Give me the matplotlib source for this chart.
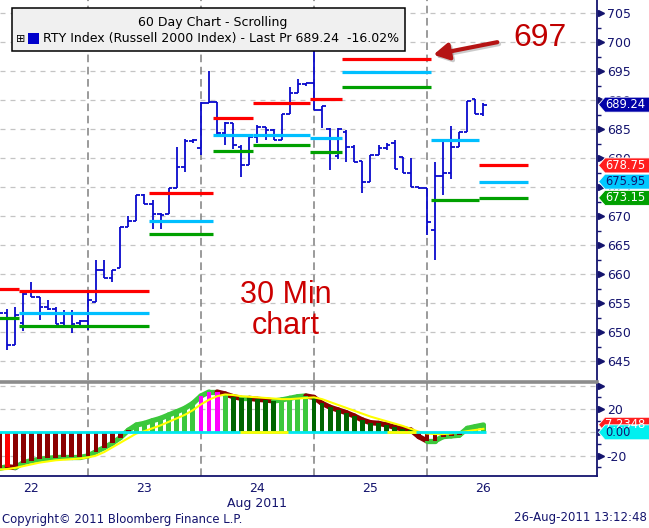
import numpy as np
import matplotlib.pyplot as plt
import matplotlib.transforms as mtransforms
from matplotlib.patches import Rectangle, Polygon

plt.rcParams['font.family'] = ['DejaVu Sans']

# 30 min bars, 14 bars per session, bar 0 = first bar of 22 Aug
bar_idx = list(range(3, 64))
opens = [653.5, 653.2, 647.8, 651.5, 656.9, 656.1, 654.4, 654.0, 651.5, 653.3, 651.6,
         651.9, 655.1, 660.7, 659.3, 661.0, 668.2, 669.2, 673.6, 672.1, 670.4, 670.4, 674.8,
         678.4, 683.0, 681.7, 689.6, 689.7, 684.3, 686.0, 682.0, 678.8, 683.7, 685.4, 684.9,
         683.1, 687.7, 691.2, 692.8, 692.9, 688.3, 685.0, 680.3, 684.5, 682.0, 679.6, 675.9,
         680.5, 681.8, 682.6, 680.2, 677.4, 675.1, 674.8, 667.6, 676.9, 677.4, 681.9, 684.5,
         690.2, 687.7]
highs = [654.5, 654.0, 654.4, 657.3, 658.7, 656.1, 655.6, 654.4, 653.8, 653.8, 652.0,
         656.7, 662.5, 662.5, 660.7, 668.2, 670.0, 673.6, 673.9, 672.7, 670.5, 674.8, 681.9,
         683.3, 683.3, 689.7, 695.1, 689.7, 686.3, 686.0, 682.3, 683.7, 685.7, 685.4, 685.0,
         687.7, 692.2, 693.6, 693.0, 702.0, 689.0, 685.2, 685.2, 684.9, 682.3, 679.6, 680.5,
         682.3, 682.6, 683.1, 680.2, 680.0, 675.1, 674.8, 679.4, 683.0, 685.5, 684.5, 689.9,
         690.2, 689.6]
lows = [652.5, 646.9, 647.8, 650.1, 656.1, 652.1, 653.8, 651.4, 651.2, 649.8, 651.2,
        650.4, 655.1, 659.3, 658.7, 661.0, 668.2, 669.2, 672.1, 667.7, 667.7, 670.4, 674.8,
        677.7, 682.6, 680.5, 689.6, 684.0, 682.3, 681.5, 676.8, 678.8, 682.6, 683.1, 683.1,
        683.1, 687.7, 691.2, 692.5, 688.3, 685.2, 678.0, 679.8, 679.4, 679.4, 674.0, 675.9,
        680.5, 681.4, 678.2, 677.4, 675.1, 674.6, 666.7, 662.4, 673.6, 676.4, 681.9, 684.5,
        687.7, 687.3]
closes = [653.2, 647.8, 653.0, 656.6, 656.1, 654.4, 654.0, 651.4, 653.3, 651.4, 651.9,
          655.5, 660.7, 659.3, 660.7, 668.2, 669.2, 673.6, 672.1, 670.4, 670.2, 674.8, 678.4,
          683.0, 683.1, 689.6, 689.7, 684.3, 686.0, 682.3, 678.8, 683.7, 685.4, 684.9, 683.1,
          687.7, 691.2, 692.8, 693.0, 688.3, 689.0, 681.1, 685.0, 682.0, 679.4, 675.9, 680.5,
          681.8, 682.3, 678.2, 677.4, 675.1, 674.8, 669.0, 676.9, 677.4, 681.9, 684.5, 689.9,
          687.7, 689.24]

# pivot levels: segment start/end (bar units), resistance, pivot, support
piv_start = [2.5, 5.5, 21.5, 29.5, 34.5, 41.5, 45.5, 56.5, 62.5]
piv_end = [5.5, 21.5, 29.5, 34.5, 41.5, 45.5, 56.5, 62.5, 68.5]
piv_r = [657.4, 657.1, 674.0, 686.9, 689.6, 690.3, 697.2, np.nan, 678.75]
piv_p = [np.nan, 653.2, 669.2, 684.0, 684.0, 683.4, 694.8, 683.1, 675.95]
piv_s = [652.5, 651.1, 667.0, 681.3, 682.3, 681.1, 692.3, 672.7, 673.15]

# lower study: histogram, signal line, bar colour codes
hist = [-31, -29.5, -30.3, -26, -24.3, -23.2, -22.3, -21.7, -21.5, -21.5, -21.5, -20.3,
        -16.6, -13.2, -9.4, -4.6, 1.8, 6.3, 7.7, 10, 12, 14.9, 17.7, 20.6, 24.9, 31.2, 34.6,
        34.6, 32.9, 30.6, 29.2, 29.2, 28.3, 27.8, 26.9, 27.8, 29.2, 30.6, 31.2, 30.0, 24.9,
        21.5, 19.2, 16.9, 14.0, 10.6, 8.3, 7.7, 6.3, 4.3, 2.9, 2.0, -3.7, -7.4, -7.4, -3.7,
        -3.1, -2.5, 3.4, 4.9, 6.3]
signal = [-32, -31.5, -30.5, -29, -27.5, -26, -25, -24, -23.5, -23, -22.5, -21.5, -20, -17,
          -13, -9, -5, -1, 1, 3.5, 6, 9, 12, 15, 19, 24, 28, 31, 32.5, 32, 31, 30.5, 30, 29.5,
          29, 28.5, 28.5, 29, 29.5, 30, 28.5, 26, 23.5, 21, 18.5, 16, 13.5, 11.5, 9.5, 7.5,
          5.5, 3, 0.5, -1, -1.5, -1.5, -1, 0, 1, 2, 3]
hist_code = list('MR' + 'M' * 15 + 'L' * 8 + 'P' * 3 + 'L' + 'D' * 6 + 'L' * 4 + 'D' * 13
                 + 'M' * 6 + 'L' * 3)
zero_yellow = [(32.8, 38.8), (51.0, 54.7)]

day_ticks = [7, 21, 35, 49, 63]
day_labels = ['22', '23', '24\nAug 2011', '25', '26']
day_bounds = [14, 28, 42, 56]

NAVY = '#14146e'
BLUE = '#0a0acd'
code_col = {'M': '#8b0000', 'R': '#ff0000', 'L': '#3cc83c', 'D': '#006400', 'P': '#ff00ff'}

W, H = 649, 528
fig = plt.figure(figsize=(W / 100, H / 100), dpi=100)
ax = fig.add_axes([0, 1 - 380 / H, 597 / W, 380 / H])
ax2 = fig.add_axes([0, 1 - 476 / H, 597 / W, 94 / H], sharex=ax)

ax.set_xlim(3.1, 77.07)
ax.set_ylim(641.72, 707.3)
ax2.set_ylim(-37.5, 43.2)

for a in (ax, ax2):
    for s in ('left', 'top', 'bottom'):
        a.spines[s].set_visible(False)
    a.spines['right'].set_color(NAVY)
    a.spines['right'].set_linewidth(1.3)
    a.yaxis.tick_right()
    a.tick_params(axis='y', which='major', length=0, pad=7, labelsize=9, labelcolor=NAVY)
    a.tick_params(axis='y', which='minor', length=3, width=1, color=NAVY, direction='out')
    for d in day_bounds:
        a.axvline(d, color='#808080', lw=1.1, ls=(0, (5, 3)), zorder=1)
ax2.spines['bottom'].set_visible(True)
ax2.spines['bottom'].set_color(NAVY)
ax2.spines['bottom'].set_linewidth(1.3)
ax2.spines['top'].set_visible(True)
ax2.spines['top'].set_color('#8c8c8c')
ax2.spines['top'].set_linewidth(2.6)

# main panel ticks / grid
main_ticks = np.arange(645, 706, 5)
ax.set_yticks(main_ticks)
ax.set_yticks(main_ticks[:-1] + 2.5, minor=True)
ax.tick_params(axis='x', length=0, labelbottom=False)
for t in main_ticks:
    ax.axhline(t, color='#c4c4c4', lw=0.9, ls=(0, (4, 4)), zorder=0)

low_ticks = [-20, 0, 20, 40]
ax2.set_yticks(low_ticks)
ax2.set_yticklabels(['-20', '', '20', ''])
ax2.set_yticks([-30, -10, 10, 30], minor=True)
for t in low_ticks:
    ax2.axhline(t, color='#c4c4c4', lw=0.9, ls=(0, (4, 4)), zorder=0)
ax2.set_xticks(day_ticks)
ax2.set_xticklabels(day_labels)
ax2.tick_params(axis='x', length=0, pad=4, labelsize=9, labelcolor=NAVY)

# arrow markers on the major ticks
off = mtransforms.ScaledTranslation(3.5 / 100, 0, fig.dpi_scale_trans)
for a, tks in ((ax, main_ticks), (ax2, low_ticks)):
    tr = mtransforms.blended_transform_factory(a.transAxes, a.transData) + off
    a.plot([1.0] * len(tks), tks, ls='none', marker='>', ms=5, color=NAVY,
           transform=tr, clip_on=False, zorder=6)

# OHLC bars
x = np.array(bar_idx)
ax.vlines(x, lows, highs, color=BLUE, lw=1.3, zorder=3)
ax.hlines(opens, x - 0.45, x, color=BLUE, lw=1.3, zorder=3)
ax.hlines(closes, x, x + 0.45, color=BLUE, lw=1.3, zorder=3)

# pivot lines
ax.hlines(piv_p, piv_start, piv_end, color='#00bfff', lw=2.3, zorder=4)
ax.hlines(piv_s, piv_start, piv_end, color='#00a000', lw=2.3, zorder=4)
ax.hlines(piv_r, piv_start, piv_end, color='#ff0000', lw=2.3, zorder=4)

# lower study
h = np.array(hist)
for i in range(len(x) - 1):
    c = '#3cc83c' if h[i + 1] >= h[i] else '#8b0000'
    ax2.plot(x[i:i + 2], h[i:i + 2], color=c, lw=3.8, solid_capstyle='round', zorder=2)
ax2.bar(x, h, width=0.6, color=[code_col[c] for c in hist_code], zorder=3)
ax2.plot(x, signal, color='#ffff00', lw=1.5, zorder=4)
ax2.hlines(0, x[0] - 0.5, x[-1] + 0.3, color='#00e8f0', lw=2, zorder=5)
for a0, a1 in zero_yellow:
    ax2.hlines(0, a0, a1, color='#ffff00', lw=2, zorder=5)

# legend box
ax.add_patch(Rectangle((0.0206, 0.866), 0.657, 0.112, transform=ax.transAxes,
                       fc='#f0f0f0', ec='black', lw=1.1, zorder=7))
ax.text(0.357, 0.9395, '60 Day Chart - Scrolling', transform=ax.transAxes, ha='center',
        va='center', fontsize=9, color='black', zorder=8)
ax.text(0.0343, 0.8985, '\u229e', transform=ax.transAxes, ha='center', va='center',
        fontsize=8, color='black', zorder=8)
ax.add_patch(Rectangle((0.0469, 0.8842), 0.0184, 0.0289, transform=ax.transAxes,
                       fc='#0000cc', ec='none', zorder=8))
ax.text(0.072, 0.8974, 'RTY Index (Russell 2000 Index) - Last Pr 689.24  -16.02%',
        transform=ax.transAxes, ha='left', va='center', fontsize=9, color='black', zorder=8)

# annotations
ax.annotate('', xy=(0.729, 0.851), xytext=(0.836, 0.884), xycoords='axes fraction',
            arrowprops=dict(arrowstyle='-|>,head_length=0.9,head_width=0.5', color='#999999',
                            lw=3, alpha=0.5, shrinkA=0, shrinkB=0), zorder=6)
ax.annotate('', xy=(0.726, 0.856), xytext=(0.833, 0.889), xycoords='axes fraction',
            arrowprops=dict(arrowstyle='-|>,head_length=0.9,head_width=0.5', color='#b51414',
                            lw=3, shrinkA=0, shrinkB=0), zorder=7)
ax.text(0.9045, 0.9, '697', transform=ax.transAxes, ha='center', va='center', fontsize=23,
        color='#c00000', family='Liberation Sans', zorder=7)
ax.text(0.479, 0.184, '30 Min\nchart', transform=ax.transAxes, ha='center', va='center',
        fontsize=22, color='#cc0000', family='Liberation Sans', linespacing=1.05, zorder=7)


# value tags on the right axis
def tag(a, val, text, fc, tc):
    xd = a.transAxes.transform((1, 0))[0]
    yd = a.transData.transform((0, val))[1]
    hh = 7.5
    pts = [(xd + 1.5, yd), (xd + 8, yd + hh), (xd + 60, yd + hh), (xd + 60, yd - hh),
           (xd + 8, yd - hh)]
    pts = fig.transFigure.inverted().transform(pts)
    fig.add_artist(Polygon(pts, closed=True, transform=fig.transFigure, fc=fc, ec='white',
                           lw=0.6, zorder=5))
    fig.text(pts[1][0], pts[0][1], text, ha='left', va='center', fontsize=8.3,
             color=tc, zorder=6)


fig.canvas.draw()
tag(ax, 689.24, '689.24', '#0000a8', 'white')
tag(ax, 678.75, '678.75', '#ff1e1e', 'white')
tag(ax, 675.95, '675.95', '#00c8ff', NAVY)
tag(ax, 673.15, '673.15', '#00a000', 'white')
tag(ax2, 6.5, '7.2348', '#ff1e1e', 'white')
tag(ax2, 0, '0.00', '#00f0f0', NAVY)

fig.text(2 / W, 1 - 519 / H, 'Copyright\u00a9 2011 Bloomberg Finance L.P.', ha='left',
         va='center', fontsize=8.4, color=NAVY)
fig.text(647 / W, 1 - 518 / H, '26-Aug-2011 13:12:48', ha='right', va='center',
         fontsize=8.5, color=NAVY)

fig.savefig('out.png', dpi=100)
